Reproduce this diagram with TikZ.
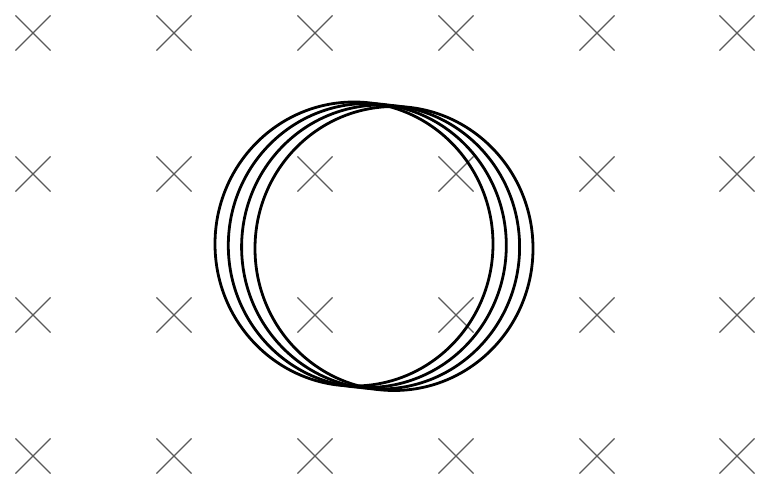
\documentclass[tikz,border=0pt]{standalone}
\usetikzlibrary{shapes.misc}

\begin{document}
\begin{tikzpicture}[x=1bp,y=-1bp]
        \useasboundingbox (0,0) rectangle (761,477);
        \tikzset{campo/.style={cross out,draw=black!65,line width=1.1pt,inner sep=0pt,minimum size=34bp}}
        %disegno campo B entrante
        \node[campo] (b11) at (33,33) {};
        \node[campo] (b12) at (174,33) {};
        \node[campo] (b13) at (315,33) {};
        \node[campo] (b14) at (456,33) {};
        \node[campo] (b15) at (597,33) {};
        \node[campo] (b16) at (737,33) {};
        %%%%
        \node[campo] (b21) at (33,174) {};
        \node[campo] (b22) at (174,174) {};
        \node[campo] (b23) at (315,174) {};
        \node[campo] (b24) at (456,174) {};
        \node[campo] (b25) at (597,174) {};
        \node[campo] (b26) at (737,174) {};
        %%%%
        \node[campo] (b31) at (33,315) {};
        \node[campo] (b32) at (174,315) {};
        \node[campo] (b33) at (315,315) {};
        \node[campo] (b34) at (456,315) {};
        \node[campo] (b35) at (597,315) {};
        \node[campo] (b36) at (737,315) {};
        %%%%
        \node[campo] (b41) at (33,456) {};
        \node[campo] (b42) at (174,456) {};
        \node[campo] (b43) at (315,456) {};
        \node[campo] (b44) at (456,456) {};
        \node[campo] (b45) at (597,456) {};
        \node[campo] (b46) at (737,456) {};
        %disegno orbite
        \draw[line width=2.8pt] (354,244) ellipse [x radius=139,y radius=142];
        \draw[line width=2.8pt] (367.3,245.5) ellipse [x radius=139,y radius=142];
        \draw[line width=2.8pt] (380.6,247) ellipse [x radius=139,y radius=142];
        \draw[line width=2.8pt] (394,248.5) ellipse [x radius=139,y radius=142];
\end{tikzpicture}
\end{document}
